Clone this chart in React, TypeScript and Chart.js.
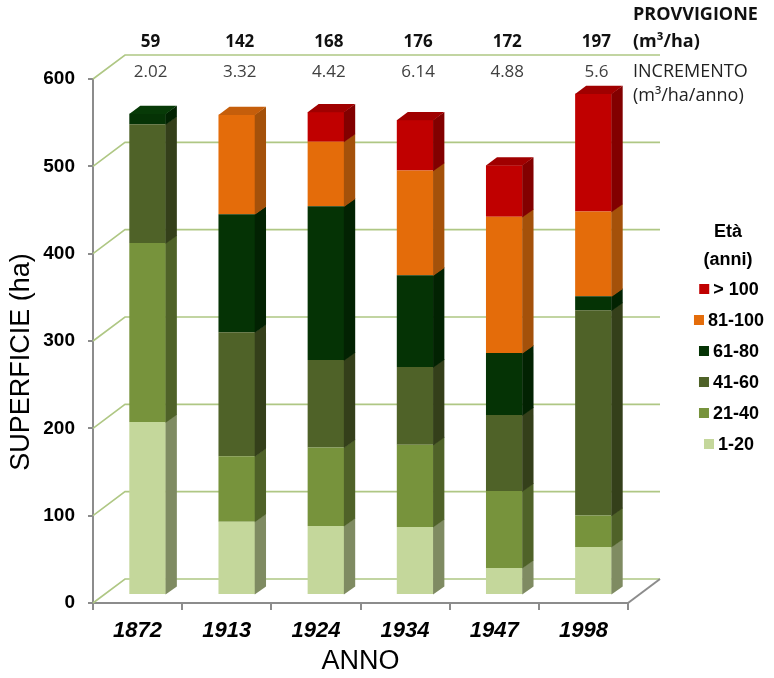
import React, { useEffect, useRef } from 'react';
import { Chart, registerables } from 'chart.js';

Chart.register(...registerables);

// ---------- data ----------
const categories = ['1872', '1913', '1924', '1934', '1947', '1998'];
const seriesLabels = ['1-20', '21-40', '41-60', '61-80', '81-100', '> 100'];
const age1to20 = [198, 84, 79, 78, 31, 55];
const age21to40 = [205, 75, 90, 94, 88, 36];
const age41to60 = [136, 142, 100, 89, 87, 235];
const age61to80 = [12, 135, 176, 105, 71, 16];
const age81to100 = [0, 114, 74, 120, 156, 97];
const ageOver100 = [0, 0, 34, 58, 59, 135];
const provvigione = [59, 142, 168, 176, 172, 197];
const incremento = [2.02, 3.32, 4.42, 6.14, 4.88, 5.6];
const yMin = 0;
const yMax = 600;
const yStep = 100;

// ---------- styles ----------
const frontColors = ['#C4D79B', '#77933C', '#4F6228', '#053305', '#E46C0A', '#C00000'];
const sideColors = ['#7F8B62', '#4F6228', '#343F1A', '#022202', '#A4510A', '#820000'];
const topColors = ['#AABB86', '#62782F', '#3F4D20', '#073A07', '#C55E0B', '#A00000'];
const GRID_GREEN = '#AFC784';
const AXIS_GRAY = '#8C8C8C';
const ARIAL = '"Liberation Sans", Arial, sans-serif';
const CAL = '"Open Sans", "Liberation Sans", sans-serif';

const DEPTH_X = 32;
const DEPTH_Y = 24;
const BAR_DX = 10;
const BAR_DY = 8;
const SIDE_DX = 11;
const SIDE_DY = 8;

const seriesData = [age1to20, age21to40, age41to60, age61to80, age81to100, ageOver100];

const threeD = {
  id: 'threeD',
  beforeDatasetsDraw(chart: any) {
    const { ctx, chartArea, scales } = chart;
    const y = scales.y;
    ctx.save();
    ctx.strokeStyle = GRID_GREEN;
    ctx.lineWidth = 1.6;
    y.ticks.forEach((t: any) => {
      const py = y.getPixelForValue(t.value);
      ctx.beginPath();
      ctx.moveTo(chartArea.left, py);
      ctx.lineTo(chartArea.left + DEPTH_X, py - DEPTH_Y);
      ctx.lineTo(chartArea.right + DEPTH_X, py - DEPTH_Y);
      ctx.stroke();
    });
    const y0 = y.getPixelForValue(0);
    ctx.strokeStyle = AXIS_GRAY;
    ctx.lineWidth = 2;
    ctx.beginPath();
    ctx.moveTo(chartArea.right, y0);
    ctx.lineTo(chartArea.right + DEPTH_X, y0 - DEPTH_Y);
    ctx.stroke();
    ctx.restore();
    ctx.save();
    ctx.translate(BAR_DX, -BAR_DY);
  },
  afterDatasetsDraw(chart: any) {
    const { ctx } = chart;
    const datasets = chart.data.datasets;
    datasets.forEach((ds: any, di: number) => {
      const meta = chart.getDatasetMeta(di);
      meta.data.forEach((el: any, i: number) => {
        const v = ds.data[i];
        if (!v) return;
        const p = el.getProps(['x', 'y', 'base', 'width'], true);
        const x0 = p.x - p.width / 2;
        const x1 = p.x + p.width / 2;
        const yt = Math.min(p.y, p.base);
        const yb = Math.max(p.y, p.base);
        ctx.fillStyle = sideColors[di];
        ctx.beginPath();
        ctx.moveTo(x1 - 0.3, yt);
        ctx.lineTo(x1 + SIDE_DX, yt - SIDE_DY);
        ctx.lineTo(x1 + SIDE_DX, yb - SIDE_DY + 0.6);
        ctx.lineTo(x1 - 0.3, yb + 0.6);
        ctx.closePath();
        ctx.fill();
        let isTop = true;
        for (let k = di + 1; k < datasets.length; k++) {
          if (datasets[k].data[i] > 0) isTop = false;
        }
        if (isTop) {
          ctx.fillStyle = topColors[di];
          ctx.beginPath();
          ctx.moveTo(x0, yt + 0.3);
          ctx.lineTo(x1, yt + 0.3);
          ctx.lineTo(x1 + SIDE_DX, yt - SIDE_DY);
          ctx.lineTo(x0 + SIDE_DX, yt - SIDE_DY);
          ctx.closePath();
          ctx.fill();
        }
      });
    });
    ctx.restore();
  },
  afterDraw(chart: any) {
    const { ctx, scales } = chart;
    const x = scales.x;
    ctx.save();
    // top annotations
    ctx.textBaseline = 'middle';
    ctx.textAlign = 'center';
    ctx.fillStyle = '#111';
    ctx.font = `bold 17px ${CAL}`;
    provvigione.forEach((v, i) => {
      ctx.fillText(String(v), x.getPixelForValue(i) + 13, 42);
    });
    ctx.fillStyle = '#404040';
    ctx.font = `17px ${CAL}`;
    incremento.forEach((v, i) => {
      ctx.fillText(String(v), x.getPixelForValue(i) + 13, 72);
    });
    ctx.textAlign = 'left';
    ctx.fillStyle = '#111';
    ctx.font = `bold 18px ${CAL}`;
    ctx.fillText('PROVVIGIONE', 633, 15);
    ctx.fillText('(m³/ha)', 633, 42);
    ctx.fillStyle = '#222';
    ctx.font = `18px ${CAL}`;
    ctx.fillText('INCREMENTO', 633, 72);
    ctx.fillText('(m³/ha/anno)', 633, 96);

    // legend
    ctx.fillStyle = '#000';
    ctx.textAlign = 'center';
    ctx.font = `bold 18px ${ARIAL}`;
    ctx.fillText('Età', 728, 232);
    ctx.fillText('(anni)', 728, 260);
    const rowY = [289, 320, 351, 382, 413, 444];
    const ds = chart.data.datasets;
    const order = ds.map((_: any, i: number) => i).reverse();
    order.forEach((di: number, r: number) => {
      const label = ds[di].label;
      const tw = ctx.measureText(label).width;
      const total = 10 + 4 + tw;
      const start = 729 - total / 2;
      ctx.fillStyle = frontColors[di];
      ctx.fillRect(start, rowY[r] - 5, 10, 10);
      ctx.fillStyle = '#000';
      ctx.textAlign = 'left';
      ctx.fillText(label, start + 14, rowY[r] + 1);
    });

    // y title
    ctx.translate(22, 362);
    ctx.rotate(-Math.PI / 2);
    ctx.textAlign = 'center';
    ctx.textBaseline = 'middle';
    ctx.font = `27px ${ARIAL}`;
    ctx.fillStyle = '#000';
    ctx.fillText('SUPERFICIE (ha)', 0, 0);
    ctx.restore();
  },
};

export default function App() {
  const ref = useRef<HTMLCanvasElement>(null);
  useEffect(() => {
    if (!ref.current) return;
    const chart = new Chart(ref.current, {
      type: 'bar',
      data: {
        labels: categories,
        datasets: seriesData.map((d, i) => ({
          label: seriesLabels[i],
          data: d,
          backgroundColor: frontColors[i],
          borderWidth: 0,
          clip: false as any,
        })),
      },
      options: {
        responsive: false,
        animation: false,
        devicePixelRatio: 1,
        layout: { padding: { top: 79, right: 146, left: 0, bottom: 0 } },
        datasets: { bar: { categoryPercentage: 1, barPercentage: 0.41 } },
        plugins: { legend: { display: false }, tooltip: { enabled: false } },
        scales: {
          x: {
            stacked: true,
            grid: {
              display: true,
              drawOnChartArea: false,
              drawTicks: true,
              tickLength: 7,
              color: AXIS_GRAY,
              lineWidth: 2,
              offset: true,
            },
            border: { display: true, color: AXIS_GRAY, width: 2 },
            ticks: {
              color: '#000',
              padding: 8,
              font: { family: ARIAL, size: 22, style: 'italic', weight: 'bold' },
            },
            title: {
              display: true,
              text: 'ANNO',
              color: '#000',
              padding: { top: 0, bottom: 0 },
              font: { family: ARIAL, size: 27 },
            },
            afterFit(scale: any) {
              scale.height = 75;
            },
          },
          y: {
            stacked: true,
            min: yMin,
            max: yMax,
            ticks: {
              stepSize: yStep,
              color: '#000',
              padding: 13,
              font: { family: ARIAL, size: 19, weight: 'bold' },
            },
            grid: {
              display: true,
              drawOnChartArea: false,
              drawTicks: true,
              tickLength: 5,
              color: AXIS_GRAY,
              lineWidth: 2,
            },
            border: { display: true, color: AXIS_GRAY, width: 2 },
            afterFit(scale: any) {
              scale.width = 93;
            },
          },
        },
      },
      plugins: [threeD],
    });
    return () => chart.destroy();
  }, []);
  return (
    <div style={{ position: 'absolute', left: 0, top: 0, width: 774, height: 678 }}>
      <canvas ref={ref} width={774} height={678} style={{ display: 'block', width: 774, height: 678 }} />
    </div>
  );
}
